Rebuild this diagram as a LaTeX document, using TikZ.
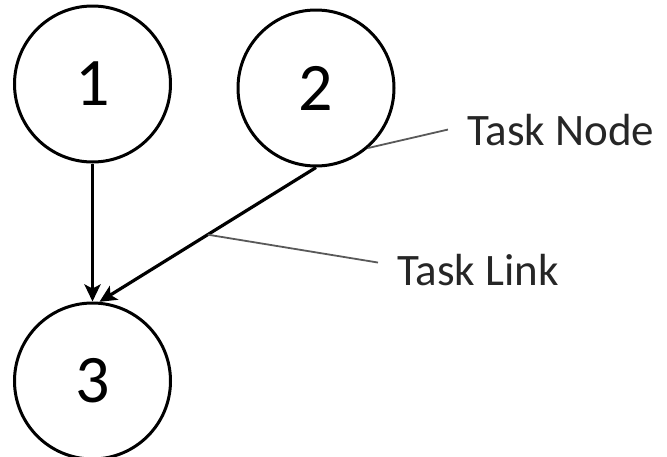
\documentclass[tikz,border=0pt]{standalone}
\usepackage{fontspec}
\setmainfont{Carlito}
\usetikzlibrary{arrows.meta,calc}
\begin{document}
\begin{tikzpicture}[x=1pt,y=-1pt,
  task/.style={circle,draw=black,line width=3pt,minimum size=156pt,inner sep=0pt,font=\fontsize{68}{68}\selectfont},
  link/.style={line width=3.2pt,-{Stealth[length=17pt,width=16pt,inset=4pt]}},
  leader/.style={draw=black!65,line width=1.8pt},
  callout/.style={anchor=base west,inner sep=0pt,text=black!85,font=\fontsize{45}{45}\selectfont}]
  \useasboundingbox (0,0) rectangle (667,456);
  \node[task] (n1) at (92.5,84) {1};
  \node[task] (n2) at (316,88) {2};
  \node[task] (n3) at (92.5,381) {3};
  \draw[link] (n1.south) -- (n3.north);
  \draw[link] (n2.south) -- coordinate[pos=0.5] (lk) (n3.85);
  \node[callout] (tn) at (467,145) {Task Node};
  \node[callout] (tl) at (397,285) {Task Link};
  \draw[leader] (n2.-49) -- ([shift={(-19,0)}]tn.west);
  \draw[leader] (lk) -- ([shift={(-19,-7)}]tl.west);
\end{tikzpicture}
\end{document}
